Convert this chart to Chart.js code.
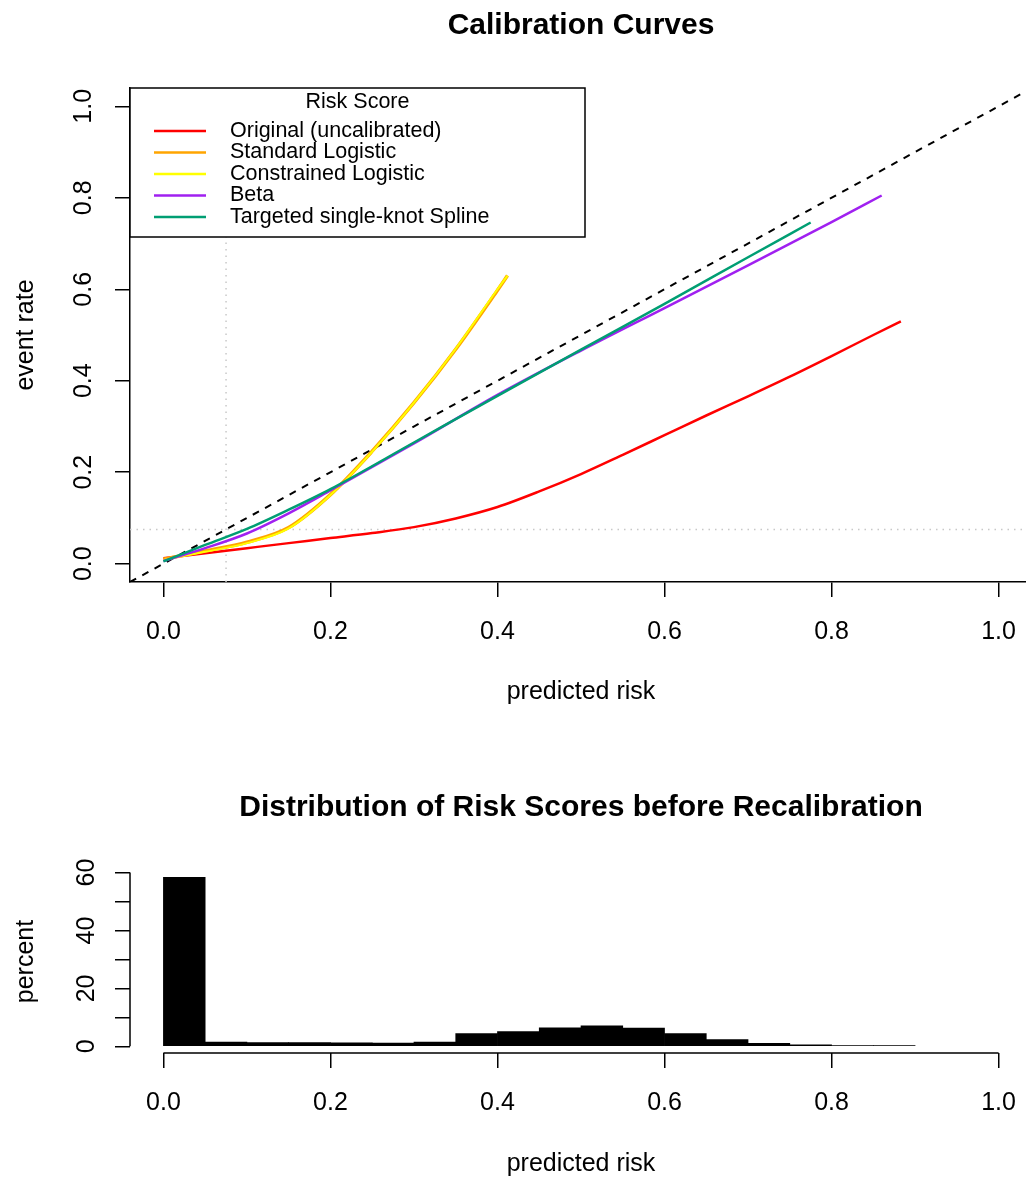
<!DOCTYPE html>
<html>
<head>
<meta charset="utf-8">
<title>Calibration Curves</title>
<style>
  html, body { margin: 0; padding: 0; background: #fff; overflow: hidden; }
  #wrap { position: relative; width: 1026px; height: 1180px; overflow: hidden; }
  canvas { position: absolute; left: 0; }
  #calib { top: 0; }
  #hist { top: 740px; }
</style>
</head>
<body>
<div id="wrap">
  <canvas id="calib" width="1162" height="740"></canvas>
  <canvas id="hist" width="1162" height="440"></canvas>
</div>
<script src="https://cdn.jsdelivr.net/npm/chart.js"></script>
<script>
// calibration curves (predicted risk -> event rate)
var xOriginal = [0, 0.05, 0.1, 0.15, 0.2, 0.25, 0.3, 0.35, 0.4, 0.45, 0.5, 0.55, 0.6, 0.65, 0.7, 0.75, 0.8, 0.85, 0.883];
var yOriginal = [0.012, 0.023, 0.034, 0.045, 0.056, 0.067, 0.080, 0.099, 0.124, 0.158, 0.196, 0.238, 0.281, 0.324, 0.366, 0.409, 0.454, 0.500, 0.530];

var xStdLogistic = [0, 0.05, 0.1, 0.15, 0.2, 0.25, 0.3, 0.35, 0.4, 0.412];
var yStdLogistic = [0.010, 0.028, 0.047, 0.079, 0.151, 0.246, 0.352, 0.469, 0.598, 0.630];

var xConLogistic = [0, 0.05, 0.1, 0.15, 0.2, 0.25, 0.3, 0.35, 0.4, 0.412];
var yConLogistic = [0.008, 0.026, 0.045, 0.077, 0.150, 0.245, 0.352, 0.470, 0.600, 0.630];

var xBeta = [0, 0.05, 0.1, 0.15, 0.2, 0.3, 0.4, 0.5, 0.6, 0.7, 0.8, 0.86];
var yBeta = [0.006, 0.034, 0.066, 0.110, 0.160, 0.263, 0.369, 0.466, 0.559, 0.652, 0.747, 0.805];

var xSpline = [0, 0.05, 0.1, 0.15, 0.2, 0.3, 0.4, 0.5, 0.6, 0.7, 0.775];
var ySpline = [0.005, 0.041, 0.076, 0.118, 0.163, 0.265, 0.367, 0.468, 0.568, 0.670, 0.746];

var prevalence = 0.075;
var axisRange = [-0.04, 1.04];
var riskTicks = [0, 0.2, 0.4, 0.6, 0.8, 1.0];
var rateTicks = [0, 0.2, 0.4, 0.6, 0.8, 1.0];

// histogram of risk scores
var binStart = [0, 0.05, 0.1, 0.15, 0.2, 0.25, 0.3, 0.35, 0.4, 0.45, 0.5, 0.55, 0.6, 0.65, 0.7, 0.75, 0.8, 0.85];
var binWidth = 0.05;
var percent = [58.4, 1.5, 1.3, 1.3, 1.2, 1.1, 1.5, 4.4, 5.1, 6.4, 7.1, 6.3, 4.4, 2.3, 1.0, 0.5, 0.2, 0.2];
var percentTicks = [0, 10, 20, 30, 40, 50, 60];

Chart.defaults.font.family = '"Liberation Sans", Arial, Helvetica, sans-serif';
Chart.defaults.color = '#000';

function pts(xs, ys) {
    return xs.map(function (x, i) { return { x: x, y: ys[i] }; });
}

function curve(label, xs, ys, color, width, order) {
    return {
        label: label,
        data: pts(xs, ys),
        borderColor: color,
        backgroundColor: color,
        borderWidth: width,
        pointRadius: 0,
        cubicInterpolationMode: 'monotone',
        inLegend: true,
        order: order
    };
}

var tickGrid = { drawOnChartArea: false, drawTicks: true, tickLength: 15, color: '#000', lineWidth: 1.5 };

// legend box in the top-left corner of the plot, like R's legend("topleft")
var boxLegend = {
    id: 'boxLegend',
    afterDatasetsDraw: function (chart) {
        var ctx = chart.ctx;
        var x0 = chart.chartArea.left, y0 = chart.chartArea.top;
        var w = 455, h = 149;
        ctx.save();
        ctx.fillStyle = '#fff';
        ctx.fillRect(x0, y0, w, h);
        ctx.strokeStyle = '#000';
        ctx.lineWidth = 1.5;
        ctx.strokeRect(x0, y0, w, h);
        ctx.fillStyle = '#000';
        ctx.font = '21.5px "Liberation Sans", Arial, sans-serif';
        ctx.textBaseline = 'middle';
        ctx.textAlign = 'center';
        ctx.fillText('Risk Score', x0 + w / 2, y0 + 14);
        ctx.textAlign = 'left';
        var items = chart.data.datasets.filter(function (d) { return d.inLegend; });
        items.forEach(function (d, i) {
            var y = y0 + 43 + i * 21.5;
            ctx.strokeStyle = d.borderColor;
            ctx.lineWidth = 2.5;
            ctx.beginPath();
            ctx.moveTo(x0 + 24, y);
            ctx.lineTo(x0 + 76, y);
            ctx.stroke();
            ctx.fillStyle = '#000';
            ctx.fillText(d.label, x0 + 100, y);
        });
        ctx.restore();
    }
};

new Chart(document.getElementById('calib'), {
    type: 'line',
    data: {
        datasets: [
            curve('Original (uncalibrated)', xOriginal, yOriginal, '#FF0000', 2.5, 5),
            curve('Standard Logistic', xStdLogistic, yStdLogistic, '#FFA500', 3.5, 4),
            curve('Constrained Logistic', xConLogistic, yConLogistic, '#FFFF00', 2, 3),
            curve('Beta', xBeta, yBeta, '#A020F0', 2.5, 2),
            curve('Targeted single-knot Spline', xSpline, ySpline, '#009E73', 2.5, 1),
            {
                label: 'identity',
                data: pts(axisRange, axisRange),
                borderColor: '#000', borderWidth: 2, borderDash: [7, 7],
                pointRadius: 0, order: 6
            },
            {
                label: 'prevalence x',
                data: pts([prevalence, prevalence], axisRange),
                borderColor: '#c8c8c8', borderWidth: 1.5, borderDash: [1.5, 5],
                pointRadius: 0, order: 7
            },
            {
                label: 'prevalence y',
                data: pts(axisRange, [prevalence, prevalence]),
                borderColor: '#c8c8c8', borderWidth: 1.5, borderDash: [1.5, 5],
                pointRadius: 0, order: 8
            }
        ]
    },
    options: {
        responsive: false,
        animation: false,
        layout: { padding: { left: 0, top: 0, right: 130, bottom: 0 } },
        plugins: {
            legend: { display: false },
            tooltip: { enabled: false },
            title: {
                display: true, fullSize: false,
                text: 'Calibration Curves',
                font: { size: 30, weight: 'bold' },
                padding: { top: 8, bottom: 44 }
            }
        },
        scales: {
            x: {
                type: 'linear', min: axisRange[0], max: axisRange[1],
                afterBuildTicks: function (s) { s.ticks = riskTicks.map(function (v) { return { value: v }; }); },
                afterFit: function (s) { s.height = 158; },
                grid: tickGrid,
                border: { display: true, color: '#000', width: 1.5 },
                ticks: { padding: 20, autoSkip: false, maxRotation: 0, font: { size: 25 },
                    callback: function (v) { return v.toFixed(1); } },
                title: { display: true, text: 'predicted risk', font: { size: 25 }, padding: { top: 0, bottom: 33 } }
            },
            y: {
                type: 'linear', min: axisRange[0], max: axisRange[1],
                afterBuildTicks: function (s) { s.ticks = rateTicks.map(function (v) { return { value: v }; }); },
                afterFit: function (s) { s.width = 130; },
                grid: tickGrid,
                border: { display: true, color: '#000', width: 1.5 },
                ticks: { padding: 13.5, autoSkip: false, minRotation: 90, maxRotation: 90, crossAlign: 'center',
                    font: { size: 25 }, callback: function (v) { return v.toFixed(1); } },
                title: { display: true, text: 'event rate', font: { size: 25 }, padding: { top: 11, bottom: 0 } }
            }
        }
    },
    plugins: [boxLegend]
});

// R style axis lines that only run from the first to the last tick
var rAxisLines = {
    id: 'rAxisLines',
    afterDraw: function (chart) {
        var ctx = chart.ctx, xs = chart.scales.x, ys = chart.scales.y;
        var area = chart.chartArea;
        ctx.save();
        ctx.strokeStyle = '#000';
        ctx.lineWidth = 1.5;
        ctx.beginPath();
        ctx.moveTo(xs.getPixelForValue(xs.ticks[0].value), area.bottom);
        ctx.lineTo(xs.getPixelForValue(xs.ticks[xs.ticks.length - 1].value), area.bottom);
        ctx.moveTo(area.left, ys.getPixelForValue(ys.ticks[0].value));
        ctx.lineTo(area.left, ys.getPixelForValue(ys.ticks[ys.ticks.length - 1].value));
        ctx.stroke();
        ctx.restore();
    }
};

new Chart(document.getElementById('hist'), {
    type: 'bar',
    data: {
        datasets: [{
            label: 'percent',
            data: binStart.map(function (b, i) { return { x: b + binWidth / 2, y: percent[i] }; }),
            backgroundColor: '#000',
            borderWidth: 0,
            barPercentage: 1,
            categoryPercentage: 1,
            grouped: false
        }]
    },
    options: {
        responsive: false,
        animation: false,
        layout: { padding: { left: 0, top: 0, right: 130, bottom: 0 } },
        plugins: {
            legend: { display: false },
            tooltip: { enabled: false },
            title: {
                display: true, fullSize: false,
                text: 'Distribution of Risk Scores before Recalibration',
                font: { size: 30, weight: 'bold' },
                padding: { top: 50, bottom: 44 }
            }
        },
        scales: {
            x: {
                type: 'linear', min: axisRange[0], max: axisRange[1], offset: false,
                afterBuildTicks: function (s) { s.ticks = riskTicks.map(function (v) { return { value: v }; }); },
                afterFit: function (s) { s.height = 127; },
                grid: { drawOnChartArea: false, drawTicks: true, tickLength: 15, color: '#000', lineWidth: 1.5, offset: false },
                border: { display: false },
                ticks: { padding: 20, autoSkip: false, maxRotation: 0, font: { size: 25 },
                    callback: function (v) { return v.toFixed(1); } },
                title: { display: true, text: 'predicted risk', font: { size: 25 }, padding: { top: 0, bottom: 1 } }
            },
            y: {
                type: 'linear', min: -2.3, max: 60.9,
                afterBuildTicks: function (s) { s.ticks = percentTicks.map(function (v) { return { value: v }; }); },
                afterFit: function (s) { s.width = 130; },
                grid: tickGrid,
                border: { display: false },
                ticks: { padding: 13.5, autoSkip: false, minRotation: 90, maxRotation: 90, crossAlign: 'center',
                    font: { size: 25 }, callback: function (v) { return v % 20 === 0 ? String(v) : ''; } },
                title: { display: true, text: 'percent', font: { size: 25 }, padding: { top: 11, bottom: 0 } }
            }
        }
    },
    plugins: [rAxisLines]
});
</script>
</body>
</html>
